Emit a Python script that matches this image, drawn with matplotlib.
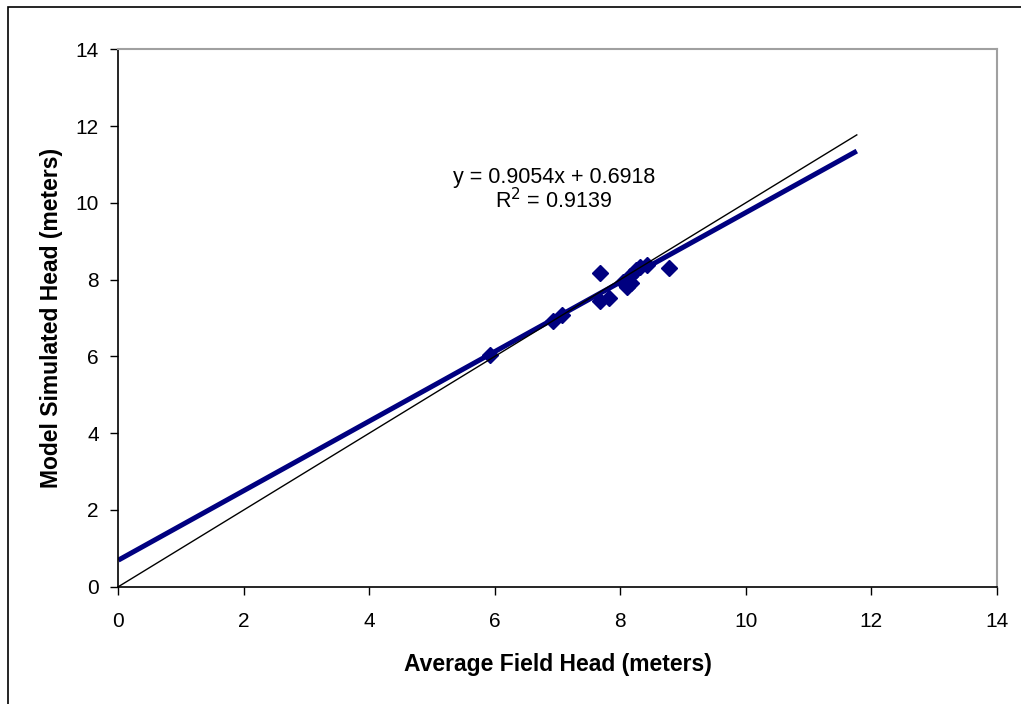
import numpy as np
import matplotlib.pyplot as plt
from matplotlib.patches import Rectangle

field_head = [5.93, 6.93, 7.07, 7.68, 7.68, 7.82, 8.05, 8.10, 8.17, 8.15, 8.25, 8.32, 8.42, 8.77]
model_head = [6.04, 6.92, 7.08, 8.18, 7.45, 7.53, 7.95, 7.80, 7.90, 8.10, 8.25, 8.32, 8.38, 8.29]

slope = 0.9054
intercept = 0.6918
r2 = 0.9139
x_end = 11.77

plt.rcParams['font.family'] = ['Liberation Sans', 'DejaVu Sans']

fig = plt.figure(figsize=(10.21, 7.04), dpi=100)
ax = fig.add_axes([0.1159, 0.1666, 0.8603, 0.7634])

# outer chart border (clipped at right/bottom like the original)
fig.patches.append(Rectangle((8 / 1021, -0.1), 2, (704 - 7) / 704 + 0.1,
                             transform=fig.transFigure, fill=False,
                             edgecolor='black', linewidth=1.2))

xs = np.array([0, x_end])
ax.plot(xs, slope * xs + intercept, color='#000080', linewidth=3.6,
        solid_capstyle='butt', zorder=2)
ax.plot(field_head, model_head, linestyle='none', marker='D', markersize=8,
        color='#000080', zorder=3)
ax.plot(xs, xs, color='black', linewidth=1.0, zorder=4)

ax.text(6.94, 10.66, f'y = {slope}x + {intercept}', ha='center', va='center', fontsize=15.5)
ax.text(6.94, 10.06, f'R$^2$ = {r2}', ha='center', va='center', fontsize=15.5)

ax.set_xlim(0, 14)
ax.set_ylim(0, 14)
ax.set_xticks(np.arange(0, 15, 2))
ax.set_yticks(np.arange(0, 15, 2))
ax.tick_params(direction='out', length=6, width=1, labelsize=15)
ax.tick_params(axis='x', pad=12)
ax.tick_params(axis='y', pad=8)

ax.set_xlabel('Average Field Head (meters)', fontsize=16.5, fontweight='bold', labelpad=16)
ax.set_ylabel('Model Simulated Head (meters)', fontsize=16.5, fontweight='bold', labelpad=9)

for side in ['top', 'right']:
    ax.spines[side].set_color('#a0a0a0')
    ax.spines[side].set_linewidth(1.5)
for side in ['left', 'bottom']:
    ax.spines[side].set_color('black')
    ax.spines[side].set_linewidth(1.2)

fig.savefig('out.png', dpi=100)
